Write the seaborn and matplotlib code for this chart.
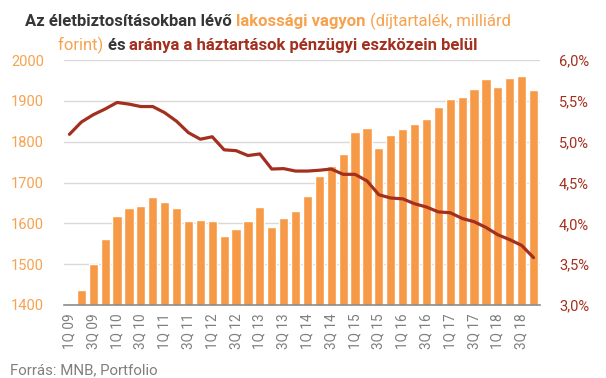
import numpy as np
import pandas as pd
import matplotlib
matplotlib.use("Agg")
import matplotlib.pyplot as plt
import seaborn as sns
from matplotlib.ticker import FuncFormatter, MultipleLocator

# quarters 1Q09 .. 4Q18
quarters = [f"{q}Q {y:02d}" for y in range(9, 19) for q in range(1, 5)]

# life insurance reserves, bn HUF (1Q09 is below the 1400 axis floor)
reserves = [1390, 1437, 1500, 1562, 1618, 1638, 1643, 1665, 1652, 1638,
            1606, 1608, 1606, 1570, 1585, 1606, 1640, 1591, 1613, 1631,
            1667, 1716, 1740, 1770, 1824, 1834, 1785, 1817, 1831, 1844,
            1856, 1885, 1905, 1910, 1930, 1954, 1934, 1956, 1961, 1927]

# share within household financial assets, %
share = [5.09, 5.24, 5.33, 5.40, 5.48, 5.46, 5.43, 5.43, 5.355, 5.25,
         5.11, 5.03, 5.06, 4.90, 4.89, 4.83, 4.85, 4.665, 4.67, 4.64,
         4.64, 4.65, 4.665, 4.60, 4.60, 4.52, 4.35, 4.31, 4.30, 4.24,
         4.20, 4.14, 4.13, 4.06, 4.02, 3.95, 3.86, 3.80, 3.73, 3.58]

df = pd.DataFrame({"q": quarters, "reserves": reserves, "share": share,
                   "pos": np.arange(len(quarters))})

ORANGE = "#F79A47"
ORANGE_TXT = "#F7A24F"
DARKRED = "#A3301F"
DARK = "#363636"
GREY = "#7F7F7F"

sns.set_style("white")
plt.rcParams["font.family"] = ["Roboto", "DejaVu Sans"]

fig = plt.figure(figsize=(6.06, 3.78), dpi=100)
W, H = 606, 378
ax = fig.add_axes([63.5 / W, 1 - 305 / H, 476 / W, 245 / H])

sns.barplot(data=df, x="q", y="reserves", color=ORANGE, saturation=1,
            width=0.78, ax=ax)
ax.set_ylim(1400, 2000)
ax.yaxis.set_major_locator(MultipleLocator(100))
ax.grid(axis="y", color="#D9D9D9", linewidth=1)
ax.set_axisbelow(True)
ax.set_xlabel("")
ax.set_ylabel("")
for s in ["top", "right", "left"]:
    ax.spines[s].set_visible(False)
ax.spines["bottom"].set_color("#8C8C8C")
ax.spines["bottom"].set_linewidth(1.2)
ax.tick_params(axis="y", length=0, labelsize=10.5, labelcolor=ORANGE_TXT, pad=14)
ax.tick_params(axis="x", length=0, labelsize=9.8, labelcolor=GREY, pad=6)
ax.set_xticks(df["pos"][::2])
ax.set_xticklabels(df["q"][::2], rotation=90)

ax2 = ax.twinx()
sns.lineplot(data=df, x="pos", y="share", color=DARKRED, linewidth=2.3, ax=ax2)
ax2.set_ylim(3.0, 6.0)
ax2.yaxis.set_major_locator(MultipleLocator(0.5))
ax2.yaxis.set_major_formatter(FuncFormatter(lambda v, p: f"{v:.1f}%".replace(".", ",")))
ax2.set_ylabel("")
ax2.set_xlabel("")
for s in ["top", "right", "left", "bottom"]:
    ax2.spines[s].set_visible(False)
ax2.tick_params(axis="y", length=0, labelsize=10.5, labelcolor=DARKRED, pad=14)
ax.set_xlim(-0.5, len(quarters) - 0.5)

# multi-coloured title
title_lines = [
    [("Az életbiztosításokban lévő ", DARK, "bold"),
     ("lakossági vagyon ", ORANGE_TXT, "bold"),
     ("(díjtartalék, milliárd", ORANGE_TXT, "normal")],
    [("forint) ", ORANGE_TXT, "normal"),
     ("és ", DARK, "bold"),
     ("aránya a háztartások pénzügyi eszközein belül", DARKRED, "bold")],
]
baselines = [26, 50]
renderer = fig.canvas.get_renderer()
for parts, base in zip(title_lines, baselines):
    texts = [fig.text(0, 1 - base / H, t, color=c, fontweight=w, fontsize=12,
                      va="baseline", ha="left") for t, c, w in parts]
    widths = [t.get_window_extent(renderer).width for t in texts]
    x = 268 - sum(widths) / 2
    for t, wd in zip(texts, widths):
        t.set_x(x / W)
        x += wd

fig.text(10 / W, 1 - 374 / H, "Forrás: MNB, Portfolio", color=GREY,
         fontsize=10.8, va="baseline", ha="left")

fig.savefig("out.png", dpi=100)
